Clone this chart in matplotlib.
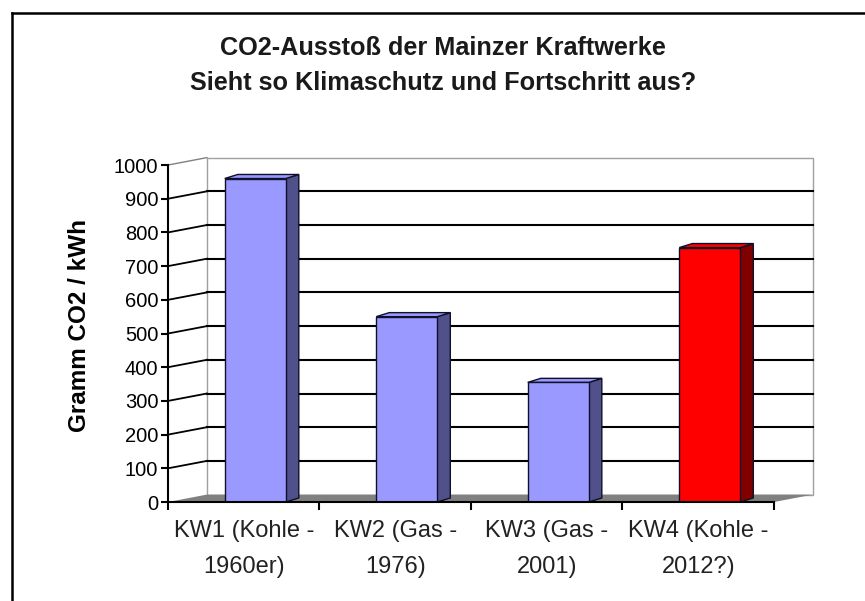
import matplotlib.pyplot as plt
from matplotlib.patches import Polygon
from matplotlib.lines import Line2D

# data (front axis scale)
categories = ["KW1 (Kohle -\n1960er)", "KW2 (Gas -\n1976)", "KW3 (Gas -\n2001)", "KW4 (Kohle -\n2012?)"]
values = [960, 550, 355, 755]
front_colors = ["#9999ff", "#9999ff", "#9999ff", "#ff0000"]
side_colors = ["#50508a", "#50508a", "#50508a", "#800000"]
yticks = [0, 100, 200, 300, 400, 500, 600, 700, 800, 900, 1000]

plain = ["Liberation Sans", "DejaVu Sans"]

fig = plt.figure(figsize=(8.65, 6.01), dpi=100)
ax = fig.add_axes([0.1942, 0.1647, 0.7006, 0.5607])
ax.set_xlim(-0.5, 3.5)
ax.set_ylim(0, 1000)
ax.set_facecolor("none")

# fake 3d depth: back wall offset (in data units) and bar depth
wx, wy = 0.257, 22
bw, boff, sdx, sdy = 0.403, 0.076, 0.086, 12

# side wall, back wall and floor
ax.add_patch(Polygon([(-0.5, 0), (-0.5 + wx, wy), (-0.5 + wx, 1000 + wy), (-0.5, 1000)],
                     closed=True, fc="white", ec="none", clip_on=False, zorder=0))
ax.add_patch(Polygon([(-0.5 + wx, wy), (3.5 + wx, wy), (3.5 + wx, 1000 + wy), (-0.5 + wx, 1000 + wy)],
                     closed=True, fc="white", ec="#a0a0a0", lw=1, clip_on=False, zorder=0))
ax.add_patch(Polygon([(-0.5, 0), (3.5, 0), (3.5 + wx, wy), (-0.5 + wx, wy)],
                     closed=True, fc="#808080", ec="none", clip_on=False, zorder=1))

# gridlines on the back wall, slanted lines on the side wall
for v in yticks[1:-1]:
    ax.plot([-0.5 + wx, 3.5 + wx], [v + wy, v + wy], color="black", lw=1.5, clip_on=False, zorder=1)
    ax.plot([-0.5, -0.5 + wx], [v, v + wy], color="black", lw=1.3, clip_on=False, zorder=1)
ax.plot([-0.5, -0.5 + wx], [1000, 1000 + wy], color="#808080", lw=1, clip_on=False, zorder=1)

# the columns
for i, v in enumerate(values):
    x0 = i + boff - bw / 2
    x1 = x0 + bw
    ax.add_patch(Polygon([(x1, 0), (x1 + sdx, sdy), (x1 + sdx, v + sdy), (x1, v)],
                         closed=True, fc=side_colors[i], ec="#10102a", lw=1, clip_on=False, zorder=3))
    ax.add_patch(Polygon([(x0, v), (x1, v), (x1 + sdx, v + sdy), (x0 + sdx, v + sdy)],
                         closed=True, fc=front_colors[i], ec="#10102a", lw=1, clip_on=False, zorder=3))
    ax.bar(i + boff, v, width=bw, color=front_colors[i], edgecolor="#10102a", lw=1, zorder=4)

for s in ["top", "right"]:
    ax.spines[s].set_visible(False)
ax.spines["left"].set_linewidth(1.5)
ax.spines["bottom"].set_linewidth(1.5)
ax.spines["left"].set_zorder(5)
ax.spines["bottom"].set_zorder(5)

ax.set_yticks(yticks)
ax.set_yticklabels([str(t) for t in yticks], family=plain, fontsize=14.5)
ax.tick_params(axis="y", direction="out", length=5, width=1.5, pad=2)

ax.set_xticks([-0.5, 0.5, 1.5, 2.5, 3.5])
ax.set_xticklabels([])
ax.tick_params(axis="x", which="major", direction="out", length=6, width=1.5)
ax.set_xticks([0, 1, 2, 3], minor=True)
ax.set_xticklabels(categories, minor=True, family=plain, fontsize=17, linespacing=1.8,
                   color="#222222")
ax.tick_params(axis="x", which="minor", length=0, pad=13)

fig.text(0.512, 0.891, "CO2-Ausstoß der Mainzer Kraftwerke\nSieht so Klimaschutz und Fortschritt aus?",
         ha="center", va="center", family=plain, fontweight="bold", fontsize=18.2, linespacing=1.6,
         color="#1a1a1a")
fig.text(80 / 865, 1 - 325 / 601, "Gramm CO2 / kWh", rotation=90, ha="center", va="center",
         family=plain, fontweight="bold", fontsize=17.5)

# frame edge of the screenshot (top and left)
fig.add_artist(Line2D([12 / 865, 1], [1 - 13 / 601, 1 - 13 / 601], color="black", lw=1.8))
fig.add_artist(Line2D([12 / 865, 12 / 865], [0, 1 - 13 / 601], color="black", lw=1.8))

fig.savefig("out.png", dpi=100)
